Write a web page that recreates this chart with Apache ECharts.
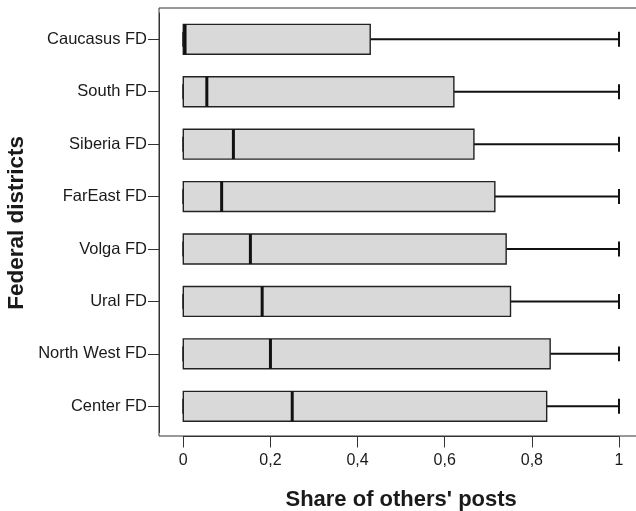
<!DOCTYPE html>
<html>
<head>
<meta charset="utf-8">
<script src="https://cdn.jsdelivr.net/npm/echarts@6/dist/echarts.min.js"></script>
<style>
html,body{margin:0;padding:0;background:#fff;}
#chart{width:636px;height:511px;}
</style>
</head>
<body>
<div id="chart"></div>
<script>
// Data (top to bottom)
var categories = ['Caucasus FD','South FD','Siberia FD','FarEast FD','Volga FD','Ural FD','North West FD','Center FD'];
var mins    = [0, 0, 0, 0, 0, 0, 0, 0];
var q1s     = [0, 0, 0, 0, 0, 0, 0, 0];
var medians = [0.004, 0.054, 0.115, 0.088, 0.154, 0.181, 0.200, 0.250];
var q3s     = [0.429, 0.621, 0.667, 0.715, 0.741, 0.751, 0.842, 0.834];
var maxs    = [1, 1, 1, 1, 1, 1, 1, 1];
var xTicks  = [0, 0.2, 0.4, 0.6, 0.8, 1];
var xTitle = "Share of others' posts";
var yTitle = 'Federal districts';

var data = categories.map(function (c, i) {
  return [i, mins[i], q1s[i], medians[i], q3s[i], maxs[i]];
});

var FONT = '"Liberation Sans", Arial, sans-serif';
var AXIS = '#333';
var TXT = '#1a1a1a';

var chart = echarts.init(document.getElementById('chart'), null, {renderer: 'canvas'});

function renderItem(params, api) {
  var cat = api.value(0);
  var pMin = api.coord([api.value(1), cat]);
  var pQ1 = api.coord([api.value(2), cat]);
  var pMed = api.coord([api.value(3), cat]);
  var pQ3 = api.coord([api.value(4), cat]);
  var pMax = api.coord([api.value(5), cat]);
  var band = api.size([0, 1])[1];
  var h = band * 0.57;
  var cap = h * 0.5;
  var cy = pQ1[1];
  var lineStyle = {stroke: '#111', lineWidth: 2};
  return {
    type: 'group',
    children: [
      {type: 'line', shape: {x1: pQ3[0], y1: cy, x2: pMax[0], y2: cy}, style: lineStyle},
      {type: 'line', shape: {x1: pMax[0], y1: cy - cap / 2, x2: pMax[0], y2: cy + cap / 2}, style: lineStyle},
      {type: 'line', shape: {x1: pMin[0], y1: cy, x2: pQ1[0], y2: cy}, style: lineStyle},
      {type: 'line', shape: {x1: pMin[0], y1: cy - cap / 2, x2: pMin[0], y2: cy + cap / 2}, style: lineStyle},
      {type: 'rect', shape: {x: pQ1[0], y: cy - h / 2, width: pQ3[0] - pQ1[0], height: h},
        style: {fill: '#d9d9d9', stroke: '#222', lineWidth: 1.4}},
      {type: 'line', shape: {x1: pMed[0], y1: cy - h / 2, x2: pMed[0], y2: cy + h / 2},
        style: {stroke: '#111', lineWidth: 3}}
    ]
  };
}

var option = {
  animation: false,
  backgroundColor: '#fff',
  grid: [
    {left: 183.3, right: 17, top: 13.1, bottom: 78.5, containLabel: false, outerBoundsMode: 'none'},
    {left: 159, top: 8, width: 520, height: 428, show: true, borderColor: AXIS, borderWidth: 1,
      backgroundColor: 'transparent', z: 0, containLabel: false, outerBoundsMode: 'none'}
  ],
  xAxis: [
    {
      type: 'value', gridIndex: 0, min: 0, max: 1, interval: 0.2,
      offset: 4,
      axisLine: {show: true, onZero: false, lineStyle: {color: AXIS, width: 1}},
      axisTick: {show: true, length: 11, lineStyle: {color: AXIS, width: 1}},
      splitLine: {show: false},
      axisLabel: {
        margin: 16, color: TXT, fontSize: 16, fontFamily: FONT,
        formatter: function (v) {
          var idx = xTicks.indexOf(Math.round(v * 10) / 10);
          return String(idx >= 0 ? xTicks[idx] : v).replace('.', ',');
        }
      },
      name: xTitle, nameLocation: 'middle', nameGap: 52,
      nameTextStyle: {fontSize: 22, fontWeight: 'bold', color: TXT, fontFamily: FONT}
    },
    {type: 'value', gridIndex: 1, show: false, min: 0, max: 1}
  ],
  yAxis: [
    {
      type: 'category', gridIndex: 0, data: categories, inverse: true,
      offset: 24.3,
      axisLine: {show: true, onZero: false, lineStyle: {color: AXIS, width: 1}},
      axisTick: {show: true, length: 11, alignWithLabel: true, lineStyle: {color: AXIS, width: 1}},
      axisLabel: {margin: 12, color: TXT, fontSize: 16.5, fontFamily: FONT},
      name: yTitle, nameLocation: 'middle', nameGap: 131, nameMoveOverlap: false,
      nameTextStyle: {fontSize: 22.5, fontWeight: 'bold', color: TXT, fontFamily: FONT}
    },
    {type: 'value', gridIndex: 1, show: false, min: 0, max: 1}
  ],
  series: [{
    type: 'custom',
    xAxisIndex: 0, yAxisIndex: 0,
    renderItem: renderItem,
    encode: {x: [1, 2, 3, 4, 5], y: 0},
    data: data,
    z: 5
  }]
};
chart.setOption(option);
</script>
</body>
</html>
